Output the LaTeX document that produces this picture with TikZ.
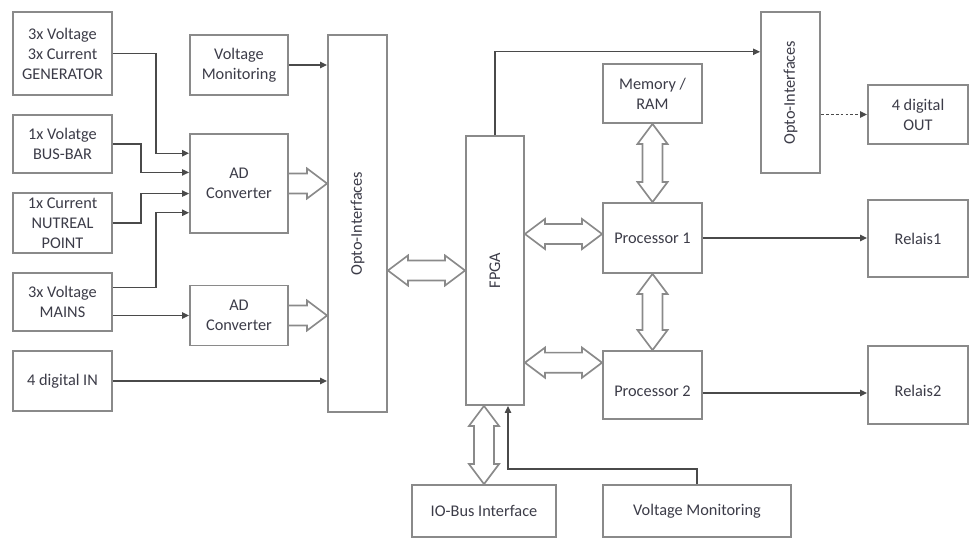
\documentclass[tikz,border=0pt]{standalone}
\usepackage{fontspec}
\setmainfont{Carlito}
\usetikzlibrary{arrows.meta,calc}
\definecolor{boxgray}{HTML}{8A8A8A}
\definecolor{linegray}{HTML}{4A4A4A}
\definecolor{txtgray}{HTML}{3C3C48}
\newcommand{\arrL}{0.5cm}
\newcommand{\arrH}{0.375cm}
\newcommand{\arrS}{0.25cm}
% 横向きの両矢印
\newcommand{\dblh}[2]{\draw[barrow] let \p1=#1, \p2=#2 in
  (\x1,\y1) -- (\x1+\arrL,\y1+\arrH) -- (\x1+\arrL,\y1+\arrS) -- (\x2-\arrL,\y1+\arrS)
  -- (\x2-\arrL,\y1+\arrH) -- (\x2,\y1) -- (\x2-\arrL,\y1-\arrH) -- (\x2-\arrL,\y1-\arrS)
  -- (\x1+\arrL,\y1-\arrS) -- (\x1+\arrL,\y1-\arrH) -- cycle;}
% 縦向きの両矢印（#1 が上）
\newcommand{\dblv}[2]{\draw[barrow] let \p1=#1, \p2=#2 in
  (\x1,\y1) -- (\x1+\arrH,\y1-\arrL) -- (\x1+\arrS,\y1-\arrL) -- (\x1+\arrS,\y2+\arrL)
  -- (\x1+\arrH,\y2+\arrL) -- (\x1,\y2) -- (\x1-\arrH,\y2+\arrL) -- (\x1-\arrS,\y2+\arrL)
  -- (\x1-\arrS,\y1-\arrL) -- (\x1-\arrH,\y1-\arrL) -- cycle;}
% 片向きの矢印
\newcommand{\sglh}[2]{\draw[barrow] let \p1=#1, \p2=#2 in
  (\x1,\y1+\arrS) -- (\x2-\arrL,\y1+\arrS) -- (\x2-\arrL,\y1+\arrH) -- (\x2,\y1)
  -- (\x2-\arrL,\y1-\arrH) -- (\x2-\arrL,\y1-\arrS) -- (\x1,\y1-\arrS);}
\tikzset{
  box/.style={draw=boxgray, line width=1.3pt, fill=white, align=center, text=txtgray, inner sep=1pt},
  sz/.style 2 args={minimum width=#1*0.025cm, minimum height=#2*0.025cm},
  conn/.style={draw=linegray, line width=0.9pt},
  barrow/.style={draw=boxgray, line width=1.2pt, line join=miter},
  lowtxt/.style={text height=0.63cm, text depth=0.05cm},
}
\begin{document}
\begin{tikzpicture}[x=0.025cm, y=-0.025cm, >={Triangle[length=5pt,width=4.5pt]},
    every node/.style={font=\fontsize{11.6}{14.2}\selectfont}]
    \useasboundingbox (0,0) rectangle (973,538);

    % 入力側のブロック
    \node[box, sz={99}{83}] (gen) at (62.5,53.5) {3x Voltage\\3x Current\\GENERATOR};
    \node[box, sz={99}{58}] (bus) at (62.5,144) {1x Volatge\\BUS-BAR};
    \node[box, sz={99}{60}] (neut) at (62.5,223) {1x Current\\NUTREAL\\POINT};
    \node[box, sz={99}{58}] (mains) at (62.5,302) {3x Voltage\\MAINS};
    \node[box, sz={99}{60}] (din) at (62.5,381) {4 digital IN};
    \node[box, sz={98}{60}] (vmon1) at (239,65) {Voltage\\Monitoring};
    \node[box, sz={98}{99}] (adc1) at (239,183.5) {AD\\Converter};
    \node[box, sz={98}{60}] (adc2) at (239,315.5) {AD\\Converter};
    \node[box, sz={59}{377}, label={[rotate=90, text=txtgray]center:Opto-Interfaces}] (opto1) at (357.5,223.5) {};

    % FPGA とプロセッサ
    \node[box, sz={58}{269}, label={[rotate=90, text=txtgray]center:FPGA}] (fpga) at (495,270.5) {};
    \node[box, sz={99}{59}] (mem) at (652.5,93.5) {Memory /\\RAM};
    \node[box, sz={99}{70}] (proc1) at (652.5,238) {Processor 1};
    \node[box, sz={99}{68}, lowtxt] (proc2) at (652.5,385) {Processor 2};
    \node[box, sz={144}{52}] (iobus) at (484,511) {IO-Bus Interface};
    \node[box, sz={188}{52}] (vmon2) at (697,511) {Voltage Monitoring};

    % 出力側のブロック
    \node[box, sz={59}{161}, label={[rotate=90, text=txtgray]center:Opto-Interfaces}] (opto2) at (790.5,92.5) {};
    \node[box, sz={100}{59}] (dout) at (918,114.5) {4 digital\\OUT};
    \node[box, sz={100}{77}] (rel1) at (918,238.5) {Relais1};
    \node[box, sz={100}{78}, lowtxt] (rel2) at (918,385) {Relais2};

    % 入力の配線
    \draw[conn,->] (gen.east) -- ++(43,0) |- ($(adc1.north west)!0.2!(adc1.south west)$);
    \draw[conn,->] (bus.east) -- ++(28,0) |- ($(adc1.north west)!0.39!(adc1.south west)$);
    \draw[conn,->] (neut.east) -- ++(28,0) |- ($(adc1.north west)!0.6!(adc1.south west)$);
    \draw[conn,->] ($(mains.north east)!0.26!(mains.south east)$) -- ++(43,0) |- ($(adc1.north west)!0.79!(adc1.south west)$);
    \draw[conn,->] (mains.east |- adc2.west) -- (adc2.west);
    \draw[conn,->] (din.east) -- (din.east -| opto1.west);
    \draw[conn,->] (vmon1.east) -- (vmon1.east -| opto1.west);

    % データバス（白抜き矢印）
    \sglh{(adc1.east)}{(adc1.east -| opto1.west)}
    \sglh{(adc2.east)}{(adc2.east -| opto1.west)}
    \dblh{(opto1.east |- fpga.west)}{(fpga.west)}
    \dblh{($(fpga.east |- proc1.west)+(0,-4)$)}{($(proc1.west)+(0,-4)$)}
    \coordinate (p2in) at ($(proc2.north west)!0.18!(proc2.south west)$);
    \dblh{(fpga.east |- p2in)}{(p2in)}
    \dblv{(mem.south)}{(proc1.north)}
    \dblv{(proc1.south)}{(proc2.north)}
    \dblv{(iobus.north |- fpga.south)}{(iobus.north)}

    % FPGA 周りの配線
    \draw[conn,->] (fpga.north) |- ($(opto2.north west)!0.25!(opto2.south west)$);
    \draw[conn,->] (vmon2.north) -- ++(0,-15) -| ($(fpga.south)+(13,0)$);

    % 出力の配線
    \draw[conn,->,dash pattern=on 2pt off 1.5pt] (opto2.east |- dout.west) -- (dout.west);
    \draw[conn,->] (proc1.east) -- (proc1.east -| rel1.west);
    \coordinate (p2out) at ($(proc2.east)+(0,8)$);
    \draw[conn,->] (p2out) -- (p2out -| rel2.west);
\end{tikzpicture}
\end{document}
